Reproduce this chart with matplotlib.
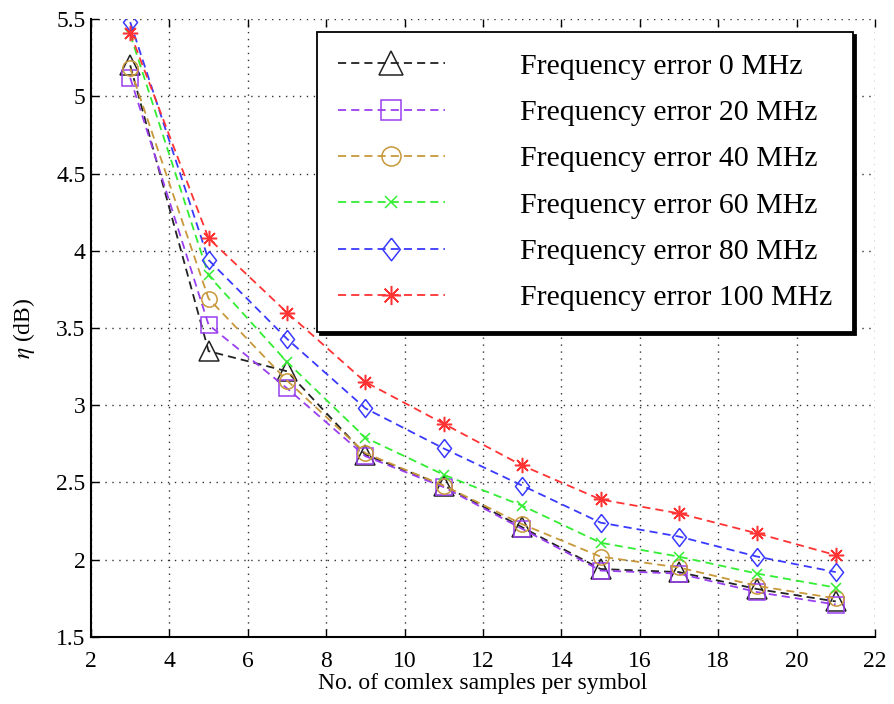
import matplotlib
matplotlib.use("Agg")
import matplotlib.pyplot as plt
from matplotlib.ticker import FuncFormatter, MultipleLocator

plt.rcParams['font.family'] = ['Liberation Serif', 'DejaVu Serif']
plt.rcParams['mathtext.fontset'] = 'stix'

x = [3, 5, 7, 9, 11, 13, 15, 17, 19, 21]
f0 = [5.20, 3.35, 3.22, 2.68, 2.48, 2.21, 1.94, 1.92, 1.81, 1.73]
f20 = [5.12, 3.52, 3.11, 2.67, 2.47, 2.20, 1.93, 1.91, 1.79, 1.71]
f40 = [5.18, 3.69, 3.16, 2.69, 2.48, 2.23, 2.02, 1.95, 1.83, 1.75]
f60 = [5.40, 3.84, 3.28, 2.79, 2.55, 2.35, 2.11, 2.02, 1.91, 1.82]
f80 = [5.48, 3.94, 3.43, 2.98, 2.72, 2.48, 2.24, 2.15, 2.02, 1.92]
f100 = [5.41, 4.08, 3.60, 3.15, 2.88, 2.61, 2.39, 2.30, 2.17, 2.03]

labels = ['Frequency error 0 MHz', 'Frequency error 20 MHz', 'Frequency error 40 MHz',
          'Frequency error 60 MHz', 'Frequency error 80 MHz', 'Frequency error 100 MHz']
series = [f0, f20, f40, f60, f80, f100]
colors = ['#222222', '#9a3ff0', '#c8983a', '#33ee33', '#3a3aff', '#ff3333']
diamond = [(0, 1), (0.78, 0), (0, -1), (-0.78, 0), (0, 1)]
markers = ['^', 's', 'o', 'x', diamond, (8, 2, 0)]
msizes = [14, 12, 11, 7, 13, 11]

fig = plt.figure(figsize=(8.94, 7.04), dpi=100)
ax = fig.add_axes([0.1018, 0.0952, 0.8769, 0.8778])

for y, c, m, ms, lab in zip(series, colors, markers, msizes, labels):
    ax.plot(x, y, color=c, marker=m, markersize=ms, markerfacecolor='none',
            markeredgecolor=c, markeredgewidth=1.1, linewidth=1.3,
            linestyle=(0, (4.5, 2.8)), label=lab)

ax.set_xlim(2, 22)
ax.set_ylim(1.5, 5.5)
ax.xaxis.set_major_locator(MultipleLocator(2))
ax.yaxis.set_major_locator(MultipleLocator(0.5))
ax.yaxis.set_major_formatter(FuncFormatter(lambda v, p: '%g' % v))

ax.grid(True, color='#333333', linestyle=(0, (1, 4)), linewidth=1.0)
for s in ['top', 'right']:
    ax.spines[s].set_visible(False)
for s in ['left', 'bottom']:
    ax.spines[s].set_linewidth(1.5)
ax.tick_params(axis='both', direction='in', length=6, width=1.0, labelsize=17,
               top=True, right=False)
ax.tick_params(axis='x', pad=10)
ax.tick_params(axis='y', pad=4)

ax.set_xlabel('No. of comlex samples per symbol', fontsize=17, labelpad=1)
ax.set_ylabel(r'$\eta$ (dB)', fontsize=17, labelpad=14)

leg = ax.legend(loc='upper right', bbox_to_anchor=(0.972, 0.979), fontsize=21.5,
                handlelength=3.6, handletextpad=2.5, labelspacing=0.65,
                borderpad=0.7, borderaxespad=0, markerscale=1.25,
                fancybox=False, framealpha=1,
                edgecolor='black', shadow={'color': 'black', 'alpha': 1.0})
leg.get_frame().set_linewidth(1.3)

fig.savefig('out.png', dpi=100)
